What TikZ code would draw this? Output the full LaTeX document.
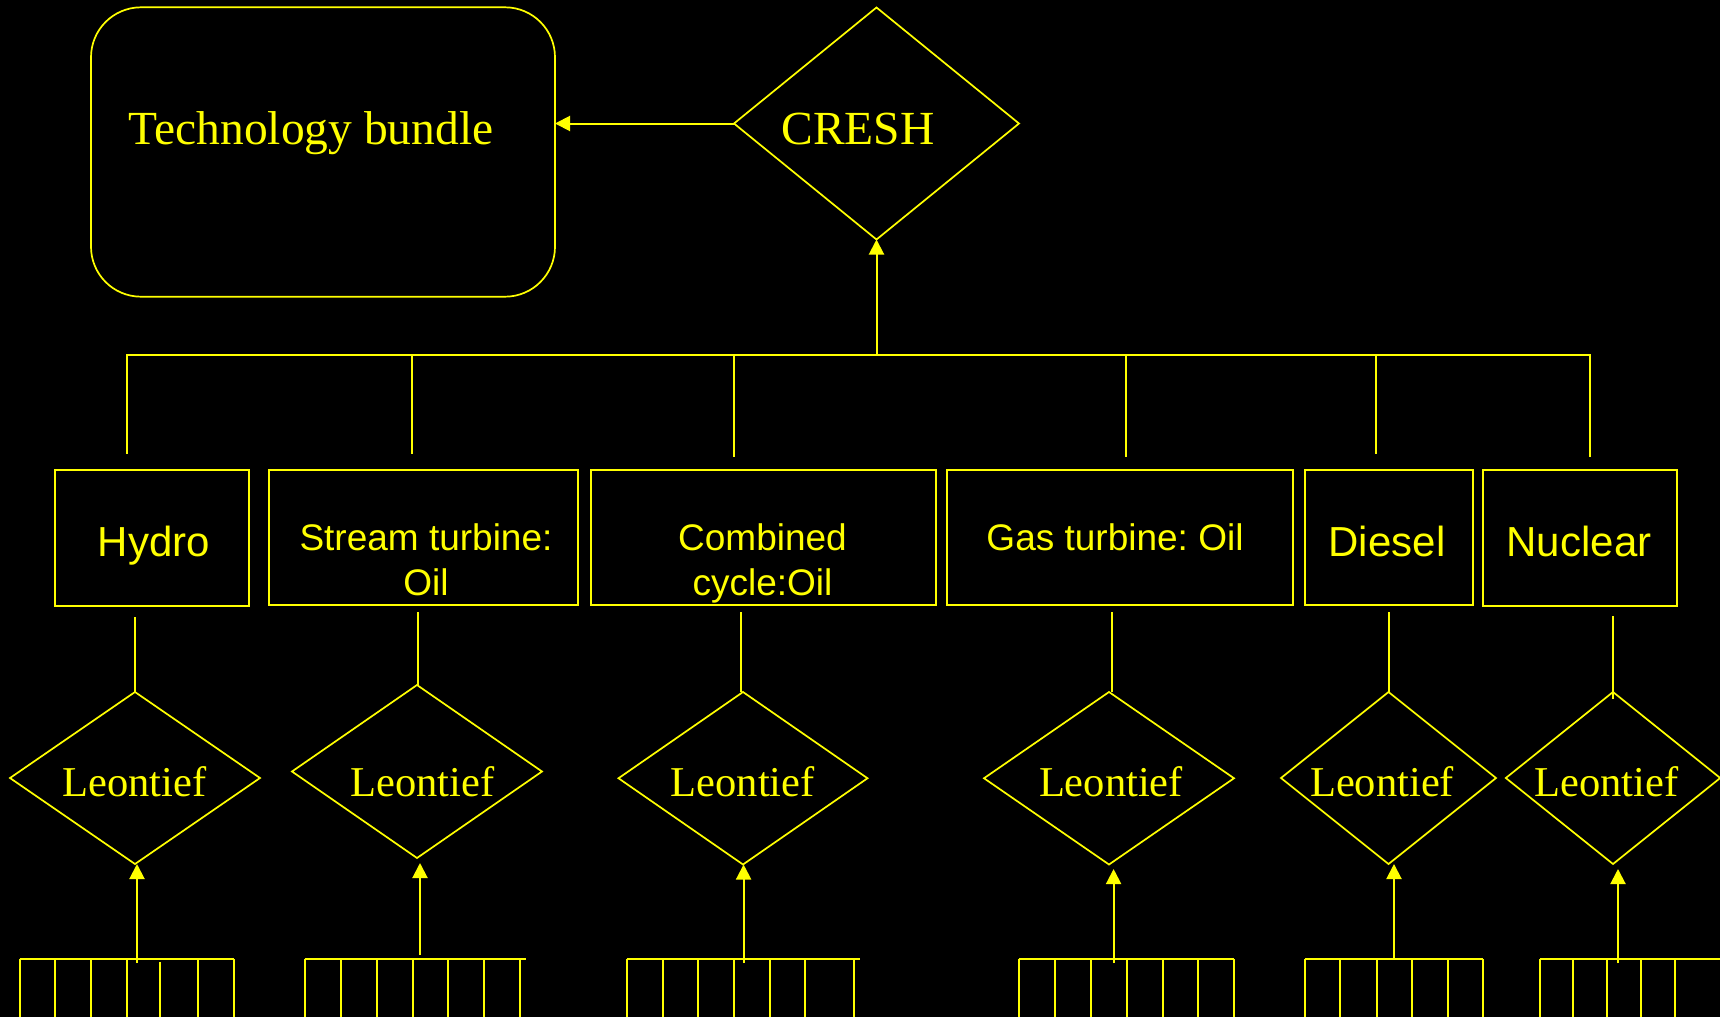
\documentclass[tikz,border=0pt]{standalone}
\usepackage{fontspec}
\setmainfont{Liberation Serif}
\newfontfamily\arialf{Liberation Sans}
\usetikzlibrary{shapes.geometric,arrows.meta}
\definecolor{yel}{RGB}{255,255,0}
\frenchspacing
\begin{document}
\begin{tikzpicture}[x=0.5pt,y=-0.5pt,
  ln/.style={draw=yel,line width=1pt},
  arr/.style={ln,-{Triangle[length=7.5pt,width=7.5pt]}},
  techbox/.style={draw=yel,line width=1pt,rectangle,inner sep=0pt,outer sep=0pt},
  dia/.style={draw=yel,line width=0.85pt,diamond,inner sep=0pt,outer sep=0pt},
  ser/.style={text=yel,inner sep=0pt,anchor=base,font=\fontsize{#1}{#1}\selectfont},
  san/.style={text=yel,inner sep=0pt,anchor=base,font=\arialf\fontsize{#1}{#1}\selectfont},
]
\fill[black] (0,0) rectangle (1720,1017);
\useasboundingbox (0,0) rectangle (1720,1017);

% top level
\node[techbox,rounded corners=25pt,line width=0.85pt,minimum width=232pt,minimum height=144.7pt] (tb) at (323,152) {};
\node[ser=23.75] (tbt) at (311,144) {Technology bundle};
\node[dia,minimum width=142.5pt,minimum height=116pt] (cr) at (876.5,123.5) {};
\node[ser=23.75] (crt) at (858,144) {CRESH};
\draw[arr] (cr.west) -- (cr.west -| tb.east);

% bus
\coordinate (busL) at (127,355);
\coordinate (busR) at (1590,355);
\coordinate (u1) at (127,454);
\coordinate (u2) at (412.3,454);
\coordinate (u3) at (734,457);
\coordinate (u4) at (1125.5,457);
\coordinate (u5) at (1376,454);
\coordinate (u6) at (1590,457);
\draw[ln] (u1) -- (busL) -- (busR) -- (u6);
\foreach \u in {u2,u3,u4,u5} \draw[ln] (\u |- busL) -- (\u);
\draw[arr] (cr.south |- busL) -- (cr.south);

% technology boxes
\node[techbox,minimum width=97pt,minimum height=68pt] (hy) at (152,538) {};
\node[techbox,minimum width=154.5pt,minimum height=67.5pt] (st) at (423.5,537.5) {};
\node[techbox,minimum width=172.5pt,minimum height=67.5pt] (cc) at (763,537.5) {};
\node[techbox,minimum width=172.8pt,minimum height=67.5pt] (gt) at (1120,537.5) {};
\node[techbox,minimum width=84pt,minimum height=67.5pt] (di) at (1389,537.5) {};
\node[techbox,minimum width=97pt,minimum height=68pt] (nu) at (1580,538) {};

\node[san=21] (hyt) at (154,556) {Hydro};
\node[san=18.5] (stt1) at (426,550) {Stream turbine:};
\node[san=18.5] (stt2) at (426,595) {Oil};
\node[san=18.5] (cct1) at (762.5,550) {Combined};
\node[san=18.5] (cct2) at (762.5,595) {cycle:Oil};
\node[san=18.5] (gtt) at (1115,550) {Gas turbine: Oil};
\node[san=21] (dit) at (1387,556) {Diesel};
\node[san=21] (nut) at (1579,556) {Nuclear};

% Leontief diamonds
\node[dia,minimum width=125pt,minimum height=86pt] (L1) at (135,778) {};
\node[dia,minimum width=125pt,minimum height=86.5pt] (L2) at (417,771.5) {};
\node[dia,minimum width=124.5pt,minimum height=86.25pt] (L3) at (743,778.25) {};
\node[dia,minimum width=125pt,minimum height=86.25pt] (L4) at (1109,778.25) {};
\node[dia,minimum width=107.5pt,minimum height=86pt] (L5) at (1388.5,778) {};
\node[dia,minimum width=107.2pt,minimum height=86pt] (L6) at (1613,778) {};

\node[ser=21.25] (lt1) at (134.5,796) {Leontief};
\node[ser=21.25] (lt2) at (422.5,796) {Leontief};
\node[ser=21.25] (lt3) at (742.7,796) {Leontief};
\node[ser=21.25] (lt4) at (1111,796) {Leontief};
\node[ser=21.25] (lt5) at (1382,796) {Leontief};
\node[ser=21.25] (lt6) at (1606.5,796) {Leontief};

% box to diamond lines
\coordinate (v1) at (134.5,617);
\coordinate (v2) at (418,612);
\coordinate (v3) at (741,612);
\coordinate (v4) at (1111.5,612);
\coordinate (v5) at (1389,612);
\coordinate (v6) at (1613,616);
\coordinate (v6e) at (1613,699);
\draw[ln] (v1) -- (v1 |- L1.north);
\draw[ln] (v2) -- (v2 |- L2.north);
\draw[ln] (v3) -- (v3 |- L3.north);
\draw[ln] (v4) -- (v4 |- L4.north);
\draw[ln] (v5) -- (v5 |- L5.north);
\draw[ln] (v6) -- (v6e);

% arrows from input bars
\coordinate (a1) at (137,963);
\coordinate (a2) at (420,955);
\coordinate (a2t) at (420,863);
\coordinate (a3) at (743.6,963);
\coordinate (a4) at (1113.6,963);
\coordinate (a4t) at (1113.6,869);
\coordinate (a5) at (1394,959);
\coordinate (a6) at (1618,963);
\coordinate (a6t) at (1618,869);
\draw[arr] (a1) -- (a1 |- L1.south);
\draw[arr] (a2) -- (a2t);
\draw[arr] (a3) -- (a3 |- L3.south);
\draw[arr] (a4) -- (a4t);
\draw[arr] (a5) -- (a5 |- L5.south);
\draw[arr] (a6) -- (a6t);

% input bars
\draw[ln] (19.6,959) -- (234,959);
\foreach \x in {19.6,55.4,91,126.8,198,234} \draw[ln] (\x,959) -- (\x,1022);
\draw[ln] (159.6,962) -- (159.6,1022);
\draw[ln] (304.6,959) -- (525.7,959);
\foreach \x in {304.6,341,376.8,412.5,448,484,519.6} \draw[ln] (\x,959) -- (\x,1022);
\draw[ln] (626.8,959) -- (859.6,959);
\foreach \x in {626.8,662.5,698,734,769.6,805,854} \draw[ln] (\x,959) -- (\x,1022);
\draw[ln] (1019,959) -- (1234,959);
\foreach \x in {1019,1055,1091,1126.6,1163,1198,1234} \draw[ln] (\x,959) -- (\x,1022);
\draw[ln] (1305,959) -- (1483,959);
\foreach \x in {1305,1340,1376.7,1412,1448,1483} \draw[ln] (\x,959) -- (\x,1022);
\draw[ln] (1540,959) -- (1725,959);
\foreach \x in {1540,1573,1607,1641,1675} \draw[ln] (\x,959) -- (\x,1022);
\end{tikzpicture}
\end{document}
